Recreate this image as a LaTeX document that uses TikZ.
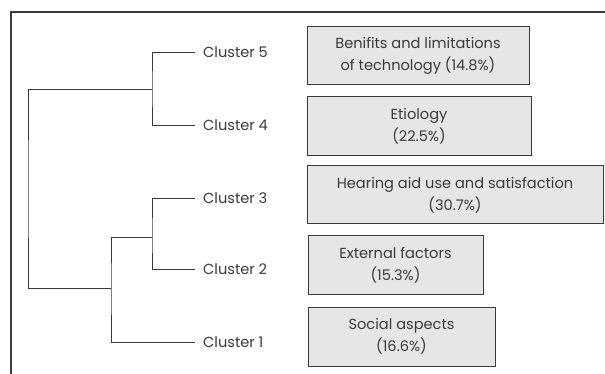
\documentclass[tikz,border=0pt]{standalone}
\usepackage{fontspec}
\setmainfont{Poppins}
\usepackage{tikz}
\usetikzlibrary{positioning}

\definecolor{linegray}{HTML}{3A3A3A}
\definecolor{boxgray}{HTML}{E6E6E6}

\begin{document}
\begin{tikzpicture}[x=1pt,y=-1pt]
\tikzstyle{clabel}=[anchor=west, inner xsep=8pt, inner ysep=0pt, text=linegray, font=\fontsize{14.6}{17}\selectfont]
\tikzstyle{theme}=[rectangle, draw=linegray, fill=boxgray, line width=1pt, align=center, inner sep=0pt, text=linegray, font=\fontsize{14.6}{22}\selectfont]
\tikzstyle{branch}=[draw=linegray, line width=0.8pt]

\useasboundingbox (0,0) rectangle (605,374);

	% frame
	\draw[linegray, line width=1.2pt] (11,374) -- (11,12) -- (605,12);

	% leaves
	\node[clabel] (c_5) at (195,52) []{Cluster 5};
	\node[clabel] (c_4) at (195,125) []{Cluster 4};
	\node[clabel] (c_3) at (195,198) []{Cluster 3};
	\node[clabel] (c_2) at (195,269) []{Cluster 2};
	\node[clabel] (c_1) at (195,342) []{Cluster 1};

	% joins
	\coordinate (j_54) at (152,89);
	\coordinate (j_32) at (152,237);
	\coordinate (j_321) at (111,288);
	\coordinate (root) at (28,189);

	\path[branch] (c_5.west) -| (j_54) |- (c_4.west);
	\path[branch] (c_3.west) -| (j_32) |- (c_2.west);
	\path[branch] (j_32) -| (j_321) |- (c_1.west);
	\path[branch] (j_54) -| (root) |- (j_321);

	% themes
	\node[theme, minimum width=222pt, minimum height=58pt] (t_5) at (418,56) []{Benifits and limitations\\of technology (14.8\%)};
	\node[theme, minimum width=224pt, minimum height=59pt] (t_4) at (419,126.5) []{Etiology\\(22.5\%)};
	\node[theme, minimum width=296pt, minimum height=58pt] (t_3) at (455,195) []{Hearing aid use and satisfaction\\(30.7\%)};
	\node[theme, minimum width=175pt, minimum height=58pt] (t_2) at (395.5,265) []{External factors\\(15.3\%)};
	\node[theme, minimum width=187pt, minimum height=59pt] (t_1) at (401.5,336.5) []{Social aspects\\(16.6\%)};

\end{tikzpicture}
\end{document}
